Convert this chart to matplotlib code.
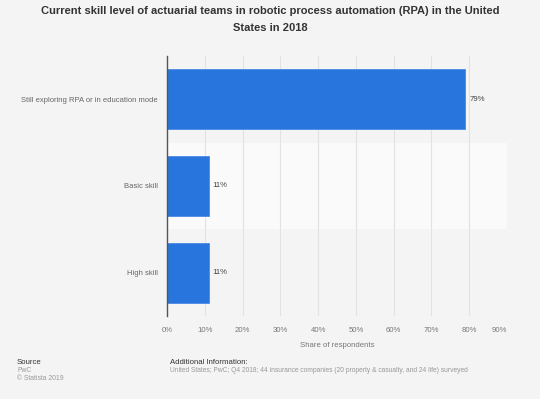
import matplotlib.pyplot as plt

plt.rcParams['font.family'] = ['Liberation Sans', 'DejaVu Sans']

categories = ["Still exploring RPA or in education mode", "Basic skill", "High skill"]
shares = [79, 11, 11]
xticks = [0, 10, 20, 30, 40, 50, 60, 70, 80, 90]

bg = "#f4f4f4"
fig = plt.figure(figsize=(5.4, 3.99), dpi=100, facecolor=bg)
ax = fig.add_axes([167 / 540, 1 - 316 / 399, 340 / 540, 260 / 399])
ax.set_facecolor(bg)

ypos = list(range(len(categories)))
# alternate row bands
for i in ypos:
    if i % 2 == 1:
        ax.axhspan(i - 0.5, i + 0.5, color="#fafafa", zorder=0, lw=0)

ax.barh(ypos, shares, height=0.69, color="#2876dd", edgecolor="#4a8ae6",
        linewidth=0.6, zorder=3)
for y, v in zip(ypos, shares):
    ax.text(v + 1.0, y, f"{v}%", va="center", ha="left", fontsize=5.6,
            color="#444444", zorder=4)

ax.set_xlim(0, 90)
ax.set_ylim(len(categories) - 0.5, -0.5)
ax.set_yticks(ypos)
ax.set_yticklabels(categories, fontsize=5.5, color="#666666")
ax.set_xticks(xticks)
ax.set_xticklabels([f"{t}%" for t in xticks], fontsize=5.6, color="#777777")
ax.get_xticklabels()[-1].set_horizontalalignment("right")
ax.tick_params(axis="both", length=0)
ax.tick_params(axis="y", pad=6.5)
ax.tick_params(axis="x", pad=8)
ax.grid(axis="x", color="#e2e2e2", linewidth=0.8, zorder=1)
ax.set_axisbelow(True)
for s in ["top", "right", "bottom"]:
    ax.spines[s].set_visible(False)
ax.spines["left"].set_color("#555555")
ax.spines["left"].set_linewidth(1.0)
ax.spines["left"].set_zorder(5)
ax.set_xlabel("Share of respondents", fontsize=5.6, color="#777777", labelpad=6)

fig.text(0.5, 1 - 11 / 399, "Current skill level of actuarial teams in robotic process automation (RPA) in the United",
         ha="center", va="center", fontsize=8.0, fontweight="bold", color="#333333")
fig.text(0.5, 1 - 28 / 399, "States in 2018",
         ha="center", va="center", fontsize=8.0, fontweight="bold", color="#333333")

fig.text(17 / 540, 1 - 362 / 399, "Source", fontsize=5.6, color="#333333", va="center")
fig.text(17 / 540, 1 - 371 / 399, "PwC", fontsize=4.9, color="#999999", va="center")
fig.text(17 / 540, 1 - 379 / 399, "\u00a9 Statista 2019", fontsize=4.9, color="#999999", va="center")
fig.text(170 / 540, 1 - 362 / 399, "Additional Information:", fontsize=5.6, color="#333333", va="center")
fig.text(170 / 540, 1 - 371 / 399,
         "United States; PwC; Q4 2018; 44 insurance companies (20 property & casualty, and 24 life) surveyed",
         fontsize=4.8, color="#999999", va="center")

fig.savefig("out.png", dpi=100, facecolor=bg)
